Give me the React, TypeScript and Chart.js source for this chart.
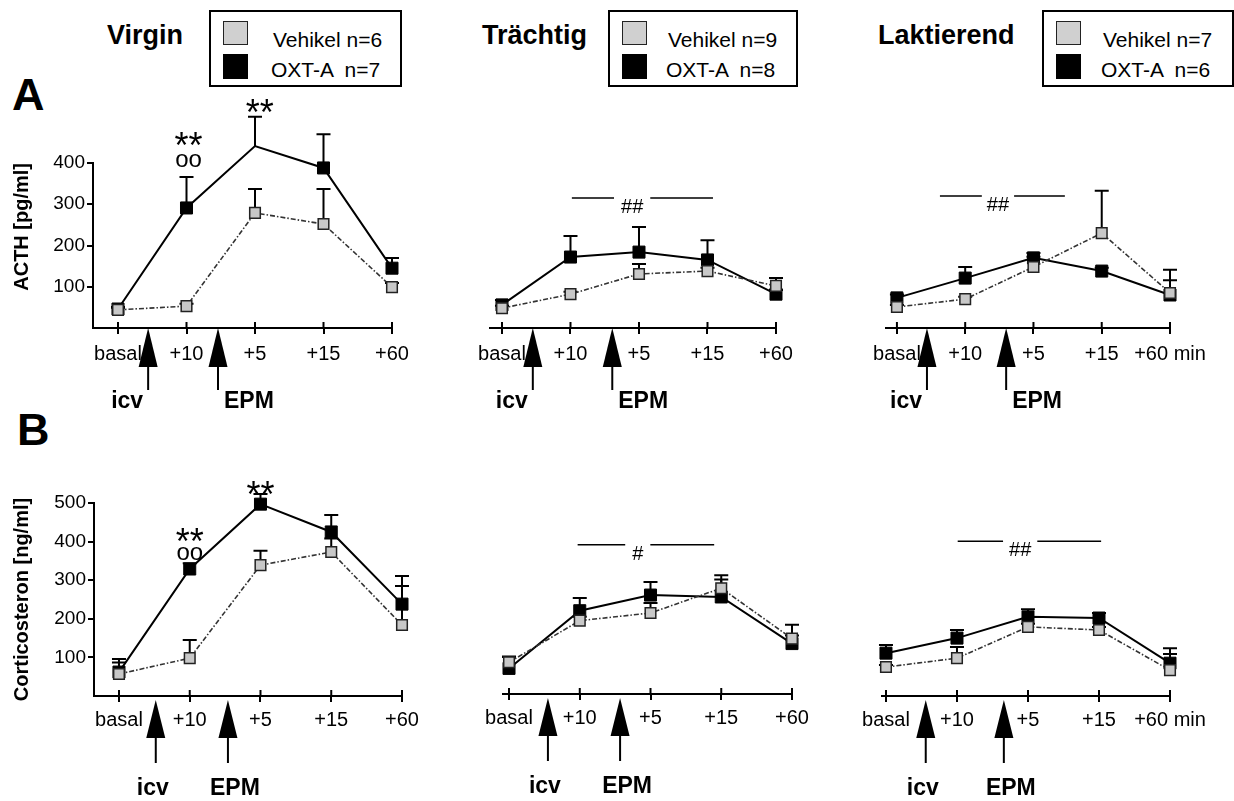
import React, { useEffect, useRef } from 'react';
import { Chart, registerables } from 'chart.js';

Chart.register(...registerables);

const FONT = "'Liberation Sans', Arial, Helvetica, sans-serif";

// ---------- data ----------
const timeLabels = ['basal', '+10', '+5', '+15', '+60'];
const lastLabelWithUnit = '+60 min';
const arrowLabels = ['icv', 'EPM'];
const acthTicks = [100, 200, 300, 400];
const corticoTicks = [100, 200, 300, 400, 500];
const groupTitles = ['Virgin', 'Trächtig', 'Laktierend'];
const vehN = [6, 9, 7];
const oxtN = [7, 8, 6];

// ACTH [pg/ml] (mean, SEM)
const acthVirginVeh = [44, 53, 279, 252, 99];
const acthVirginVehSem = [5, 6, 58, 85, 10];
const acthVirginOxt = [46, 291, 441, 388, 145];
const acthVirginOxtSem = [5, 75, 71, 82, 25];

const acthPregVeh = [48, 82, 131, 138, 102];
const acthPregVehSem = [6, 6, 24, 8, 19];
const acthPregOxt = [56, 172, 184, 165, 82];
const acthPregOxtSem = [12, 51, 61, 48, 10];

const acthLactVeh = [51, 70, 148, 230, 85];
const acthLactVehSem = [5, 6, 25, 103, 56];
const acthLactOxt = [73, 121, 170, 138, 80];
const acthLactOxtSem = [8, 27, 12, 8, 36];

// Corticosteron [ng/ml] (mean, SEM)
const corticoVirginVeh = [57, 98, 339, 373, 184];
const corticoVirginVehSem = [39, 47, 37, 35, 101];
const corticoVirginOxt = [62, 329, 497, 425, 238];
const corticoVirginOxtSem = [25, 15, 26, 44, 73];

const corticoPregVeh = [83, 192, 212, 277, 145];
const corticoPregVehSem = [15, 10, 26, 34, 8];
const corticoPregOxt = [67, 218, 259, 254, 132];
const corticoPregOxtSem = [30, 33, 34, 46, 49];

const corticoLactVeh = [75, 98, 179, 171, 67];
const corticoLactVehSem = [5, 29, 8, 8, 42];
const corticoLactOxt = [111, 150, 205, 202, 85];
const corticoLactOxtSem = [21, 21, 20, 13, 39];

// ---------- panel layout ----------
type Mark = { x: number; y: number; text: string; size: number };
type Bar = { x1: number; x2: number; xt: number; y: number; text: string; gap: number };
type Panel = {
  left: number; top: number; width: number; height: number;
  padLeft: number; padRight: number; padTop: number; xHeight: number;
  yWidth: number; yMax: number; yTicks: number[]; yTitle?: string; yTitleAlign?: string;
  xMin: number; lastLabel: string; labelPad: number;
  veh: number[]; vehSem: number[]; oxt: number[]; oxtSem: number[];
  arrowAt: number[]; arrowMode: 'side' | 'below';
  marks: Mark[]; bar?: Bar;
};

const topRow = { top: 95, height: 325, padTop: 68, xHeight: 92 };
const botRow = { top: 460, height: 341, padTop: 43 };

const panels: Panel[] = [
  {
    left: 0, width: 430, ...topRow, padLeft: 0, padRight: 38, yWidth: 93,
    yMax: 400, yTicks: acthTicks, yTitle: 'ACTH [pg/ml]', yTitleAlign: 'end',
    xMin: -0.365, lastLabel: '+60', labelPad: 8,
    veh: acthVirginVeh, vehSem: acthVirginVehSem, oxt: acthVirginOxt, oxtSem: acthVirginOxtSem,
    arrowAt: [0.44, 1.46], arrowMode: 'side',
    marks: [
      { x: 1.03, y: 413, text: '**', size: 36 },
      { x: 1.03, y: 390, text: 'oo', size: 24 },
      { x: 2.07, y: 491, text: '**', size: 36 },
    ],
  },
  {
    left: 430, width: 390, ...topRow, padLeft: 60, padRight: 44, yWidth: 0,
    yMax: 400, yTicks: acthTicks,
    xMin: -0.175, lastLabel: '+60', labelPad: 8,
    veh: acthPregVeh, vehSem: acthPregVehSem, oxt: acthPregOxt, oxtSem: acthPregOxtSem,
    arrowAt: [0.45, 1.61], arrowMode: 'side',
    marks: [],
    bar: { x1: 1.02, x2: 3.08, xt: 1.9, y: 315, text: '##', gap: 7 },
  },
  {
    left: 820, width: 414, ...topRow, padLeft: 66, padRight: 64, yWidth: 0,
    yMax: 400, yTicks: acthTicks,
    xMin: -0.16, lastLabel: lastLabelWithUnit, labelPad: 8,
    veh: acthLactVeh, vehSem: acthLactVehSem, oxt: acthLactOxt, oxtSem: acthLactOxtSem,
    arrowAt: [0.44, 1.6], arrowMode: 'side',
    marks: [],
    bar: { x1: 0.63, x2: 2.46, xt: 1.48, y: 320, text: '##', gap: 5 },
  },
  {
    left: 0, width: 430, ...botRow, xHeight: 105, padLeft: 0, padRight: 28, yWidth: 94,
    yMax: 500, yTicks: corticoTicks, yTitle: 'Corticosteron [ng/ml]', yTitleAlign: 'center',
    xMin: -0.353, lastLabel: '+60', labelPad: 6,
    veh: corticoVirginVeh, vehSem: corticoVirginVehSem, oxt: corticoVirginOxt, oxtSem: corticoVirginOxtSem,
    arrowAt: [0.52, 1.54], arrowMode: 'below',
    marks: [
      { x: 1.0, y: 368, text: '**', size: 36 },
      { x: 1.0, y: 352, text: 'oo', size: 24 },
      { x: 2.0, y: 490, text: '**', size: 36 },
    ],
  },
  {
    left: 430, width: 390, ...botRow, xHeight: 107, padLeft: 73, padRight: 28, yWidth: 0,
    yMax: 500, yTicks: corticoTicks,
    xMin: -0.085, lastLabel: '+60', labelPad: 6,
    veh: corticoPregVeh, vehSem: corticoPregVehSem, oxt: corticoPregOxt, oxtSem: corticoPregOxtSem,
    arrowAt: [0.55, 1.57], arrowMode: 'below',
    marks: [],
    bar: { x1: 0.97, x2: 2.9, xt: 1.82, y: 391, text: '#', gap: 7 },
  },
  {
    left: 820, width: 414, ...botRow, xHeight: 105, padLeft: 62, padRight: 64, yWidth: 0,
    yMax: 500, yTicks: corticoTicks,
    xMin: -0.056, lastLabel: lastLabelWithUnit, labelPad: 6,
    veh: corticoLactVeh, vehSem: corticoLactVehSem, oxt: corticoLactOxt, oxtSem: corticoLactOxtSem,
    arrowAt: [0.56, 1.66], arrowMode: 'below',
    marks: [],
    bar: { x1: 1.01, x2: 3.03, xt: 1.89, y: 401, text: '##', gap: 6 },
  },
];

function makeDecor(p: Panel) {
  return {
    id: 'decor',
    beforeDatasetsDraw(chart: any) {
      const { ctx } = chart;
      const xs = chart.scales.x;
      const ys = chart.scales.y;
      ctx.save();
      ctx.strokeStyle = '#000';
      ctx.lineWidth = 2;
      const pairs: [number[], number[]][] = [[p.veh, p.vehSem], [p.oxt, p.oxtSem]];
      pairs.forEach(([m, s]) =>
        m.forEach((v, i) => {
          const x = xs.getPixelForValue(i);
          const y0 = ys.getPixelForValue(v);
          const y1 = ys.getPixelForValue(v + s[i]);
          ctx.beginPath();
          ctx.moveTo(x, y0);
          ctx.lineTo(x, y1);
          ctx.moveTo(x - 7, y1);
          ctx.lineTo(x + 7, y1);
          ctx.stroke();
        })
      );
      ctx.restore();
    },
    afterDraw(chart: any) {
      const { ctx, chartArea } = chart;
      const xs = chart.scales.x;
      const ys = chart.scales.y;
      const axisY = chartArea.bottom;
      ctx.save();
      ctx.strokeStyle = '#000';
      ctx.fillStyle = '#000';
      ctx.lineWidth = 2;
      // upper half of crossing tick marks
      for (let i = 0; i < timeLabels.length; i++) {
        const x = xs.getPixelForValue(i);
        ctx.beginPath();
        ctx.moveTo(x, axisY - 6);
        ctx.lineTo(x, axisY);
        ctx.stroke();
      }
      // arrows icv / EPM
      const geo = p.arrowMode === 'side' ? { tip: 0, base: 39, stem: 62 } : { tip: 4, base: 42, stem: 67 };
      p.arrowAt.forEach((xv, k) => {
        const x = xs.getPixelForValue(xv);
        ctx.beginPath();
        ctx.moveTo(x, axisY + geo.tip);
        ctx.lineTo(x - 9.5, axisY + geo.base);
        ctx.lineTo(x + 9.5, axisY + geo.base);
        ctx.closePath();
        ctx.fill();
        ctx.beginPath();
        ctx.moveTo(x, axisY + geo.base);
        ctx.lineTo(x, axisY + geo.stem);
        ctx.stroke();
        ctx.font = `bold 23px ${FONT}`;
        ctx.textBaseline = 'alphabetic';
        if (p.arrowMode === 'side') {
          ctx.textAlign = k === 0 ? 'right' : 'left';
          ctx.fillText(arrowLabels[k], x + (k === 0 ? -5 : 6), axisY + 80);
        } else {
          ctx.textAlign = 'center';
          ctx.fillText(arrowLabels[k], x + (k === 0 ? -3 : 7), axisY + 99);
        }
      });
      // significance marks
      ctx.textAlign = 'center';
      ctx.textBaseline = 'alphabetic';
      p.marks.forEach((m) => {
        ctx.font = `${m.size}px ${FONT}`;
        ctx.fillText(m.text, xs.getPixelForValue(m.x), ys.getPixelForValue(m.y));
      });
      // group effect bar
      if (p.bar) {
        const b = p.bar;
        const x1 = xs.getPixelForValue(b.x1);
        const x2 = xs.getPixelForValue(b.x2);
        const xt = xs.getPixelForValue(b.xt);
        const y = ys.getPixelForValue(b.y);
        ctx.font = `20px ${FONT}`;
        const w = ctx.measureText(b.text).width;
        ctx.lineWidth = 1.5;
        ctx.beginPath();
        ctx.moveTo(x1, y);
        ctx.lineTo(xt - w / 2 - b.gap, y);
        ctx.moveTo(xt + w / 2 + b.gap, y);
        ctx.lineTo(x2, y);
        ctx.stroke();
        ctx.fillText(b.text, xt, y + 15);
      }
      ctx.restore();
    },
  };
}

function PanelChart({ p }: { p: Panel }) {
  const ref = useRef<HTMLCanvasElement | null>(null);
  useEffect(() => {
    if (!ref.current) return;
    const yScale: any = p.yWidth > 0
      ? {
          type: 'linear', min: 0, max: p.yMax, position: 'left',
          afterBuildTicks: (s: any) => { s.ticks = p.yTicks.map((v) => ({ value: v })); },
          afterFit: (s: any) => { s.width = p.yWidth; },
          grid: { display: true, drawOnChartArea: false, drawTicks: true, tickLength: 6, color: '#000', lineWidth: 2 },
          border: { display: true, color: '#000', width: 2 },
          ticks: { color: '#000', font: { family: FONT, size: 19 }, padding: 2 },
          title: {
            display: true, text: p.yTitle, color: '#000', align: p.yTitleAlign,
            font: { family: FONT, size: 20, weight: 'bold' }, padding: { top: 10, bottom: 0 },
          },
        }
      : { type: 'linear', min: 0, max: p.yMax, display: false };

    const chart = new Chart(ref.current, {
      type: 'line',
      data: {
        datasets: [
          {
            label: 'Vehikel',
            data: p.veh.map((v, i) => ({ x: i, y: v })),
            borderColor: '#333',
            borderWidth: 1.6,
            borderDash: [5, 2, 1.5, 2],
            pointStyle: 'rect',
            pointRadius: 7.5,
            pointBackgroundColor: '#c8c8c8',
            pointBorderColor: '#222',
            pointBorderWidth: 1.5,
            tension: 0,
            clip: false,
          },
          {
            label: 'OXT-A',
            data: p.oxt.map((v, i) => ({ x: i, y: v })),
            borderColor: '#000',
            borderWidth: 2,
            pointStyle: 'rect',
            pointRadius: 8.5,
            pointBackgroundColor: '#000',
            pointBorderColor: '#000',
            pointBorderWidth: 1,
            tension: 0,
            clip: false,
          },
        ],
      },
      options: {
        responsive: false,
        animation: false,
        events: [],
        layout: { padding: { left: p.padLeft, right: p.padRight, top: p.padTop, bottom: 0 } },
        plugins: { legend: { display: false }, tooltip: { enabled: false }, title: { display: false } },
        scales: {
          x: {
            type: 'linear', min: p.xMin, max: timeLabels.length - 1,
            afterBuildTicks: (s: any) => { s.ticks = timeLabels.map((_, i) => ({ value: i })); },
            afterFit: (s: any) => { s.height = p.xHeight; },
            grid: { display: true, drawOnChartArea: false, drawTicks: true, tickLength: 6, color: '#000', lineWidth: 2 },
            border: { display: true, color: '#000', width: 2 },
            ticks: {
              color: '#000', font: { family: FONT, size: 20 }, padding: p.labelPad,
              maxRotation: 0, autoSkip: false,
              callback: (v: any) => (v === timeLabels.length - 1 ? p.lastLabel : timeLabels[v]),
            },
          },
          y: yScale,
        },
      } as any,
      plugins: [makeDecor(p)],
    });
    return () => chart.destroy();
  }, []);
  return (
    <canvas
      ref={ref}
      width={p.width}
      height={p.height}
      style={{ position: 'absolute', left: p.left, top: p.top, width: p.width, height: p.height }}
    />
  );
}

const txt = (left: number, top: number, size: number, bold: boolean, s: string, key: string) => (
  <div
    key={key}
    style={{
      position: 'absolute', left, top, fontFamily: FONT, fontSize: size, lineHeight: 1,
      fontWeight: bold ? 'bold' : 'normal', whiteSpace: 'pre', color: '#000',
    }}
  >
    {s}
  </div>
);

const titleLeft = [107, 482, 878];
const legendBox = [
  { left: 209, width: 193, text: 273 },
  { left: 608, width: 190, text: 668 },
  { left: 1042, width: 192, text: 1103 },
];

export default function App() {
  return (
    <div style={{ position: 'absolute', left: 0, top: 0, width: 1234, height: 801, background: '#fff', overflow: 'hidden' }}>
      {groupTitles.map((t, i) => txt(titleLeft[i], 22, 27, true, t, 'title' + i))}
      {legendBox.map((b, i) => (
        <React.Fragment key={'lg' + i}>
          <div style={{ position: 'absolute', left: b.left, top: 10, width: b.width, height: 77, border: '2px solid #000', boxSizing: 'border-box' }} />
          <div style={{ position: 'absolute', left: b.left + 14, top: 21, width: 25, height: 24, background: '#d0d0d0', border: '1.5px solid #222', boxSizing: 'border-box' }} />
          <div style={{ position: 'absolute', left: b.left + 14, top: 54, width: 25, height: 25, background: '#000' }} />
          {txt(b.text, 29, 21, false, `Vehikel n=${vehN[i]}`, 'lv' + i)}
          {txt(b.text - 2, 59, 21, false, `OXT-A  n=${oxtN[i]}`, 'lo' + i)}
        </React.Fragment>
      ))}
      {txt(12, 72, 45, true, 'A', 'A')}
      {txt(17, 407, 45, true, 'B', 'B')}
      {panels.map((p, i) => (
        <PanelChart key={'p' + i} p={p} />
      ))}
    </div>
  );
}
